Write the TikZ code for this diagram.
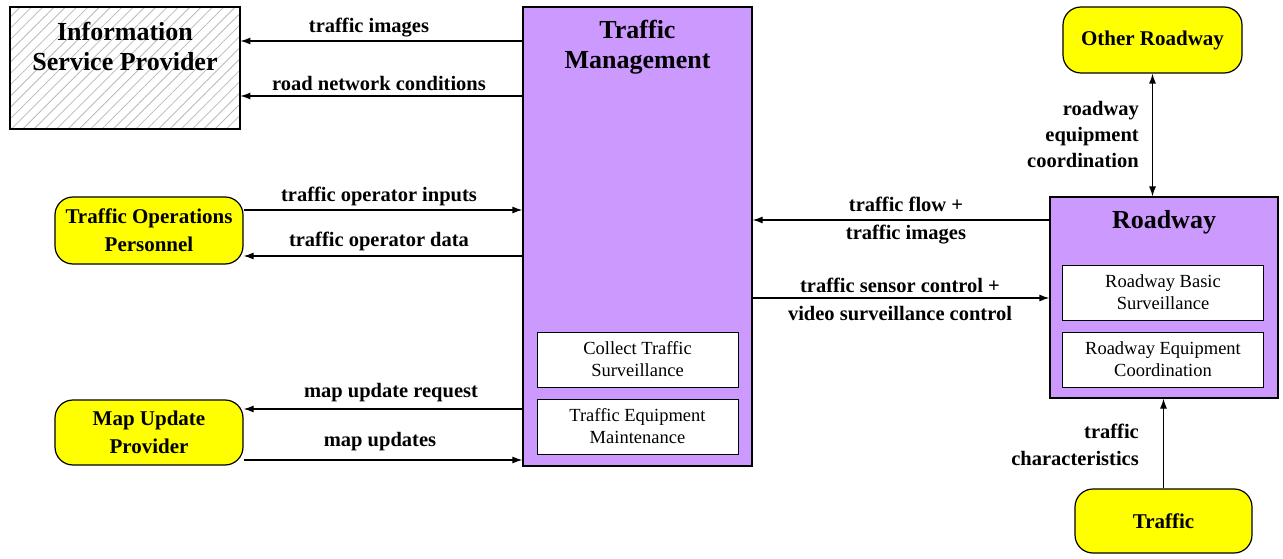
\documentclass[tikz,border=0pt]{standalone}
\usepackage{fontspec}
\setmainfont{Liberation Serif}
\usetikzlibrary{arrows.meta,positioning,patterns.meta}
\definecolor{lilac}{RGB}{204,153,255}
\definecolor{sunny}{RGB}{255,255,0}
\tikzset{
  actor/.style={draw, rounded corners=18pt, fill=sunny, line width=1.2pt,
    font=\fontsize{21}{28}\selectfont\bfseries, align=center, inner sep=0pt},
  sysbox/.style={draw, fill=lilac, line width=1.2pt, inner sep=0pt},
  subbox/.style={draw, fill=white, line width=1pt, minimum width=201pt,
    minimum height=55pt, inner sep=0pt, align=center,
    font=\fontsize{18.5}{22}\selectfont},
  boxtitle/.style={font=\fontsize{26}{30}\selectfont\bfseries, align=center, inner sep=0pt},
  lbl/.style={font=\fontsize{20.5}{27}\selectfont\bfseries, align=center, inner sep=0pt},
  flow/.style={line width=1.2pt, -{Latex[length=10pt,width=7pt]}},
  bothflow/.style={line width=1.2pt, {Latex[length=10pt,width=7pt]}-{Latex[length=10pt,width=7pt]}}
}
\begin{document}
\begin{tikzpicture}[x=1pt,y=-1pt]
  \useasboundingbox (0,0) rectangle (1283,559);

  % terminators on the left
  \node[draw, line width=1.2pt, inner sep=0pt, minimum width=230pt, minimum height=122pt,
    pattern={Lines[angle=45,distance=8pt,line width=0.8pt]}, pattern color=gray!55]
    (isp) at (125,68) {};
  \node[boxtitle] (isptitle) at (125,46) {Information\\Service Provider};
  \node[actor, minimum width=188pt, minimum height=67pt] (ops) at (149,230.5)
    {Traffic Operations\\Personnel};
  \node[actor, minimum width=188pt, minimum height=65pt] (mup) at (149,432.5)
    {Map Update\\Provider};

  % traffic management centre
  \node[sysbox, minimum width=229pt, minimum height=459pt] (tm) at (637.5,236.5) {};
  \node[boxtitle] (tmtitle) at (637.5,47) {Traffic\\Management};
  \node[subbox] (cts) at (637.5,359.5) {Collect Traffic\\Surveillance};
  \node[subbox] (tem) at (637.5,426.5) {Traffic Equipment\\Maintenance};

  % roadway side
  \node[actor, minimum width=179pt, minimum height=66pt] (otherrd) at (1152.5,40) {Other Roadway};
  \node[sysbox, minimum width=228pt, minimum height=201pt] (roadway) at (1164,297.5) {};
  \node[boxtitle] (rdtitle) at (1164,222) {Roadway};
  \node[subbox] (rbs) at (1163,292.5) {Roadway Basic\\Surveillance};
  \node[subbox] (rec) at (1163,359.5) {Roadway Equipment\\Coordination};
  \node[actor, minimum width=177pt, minimum height=64pt] (traffic) at (1163.5,521) {Traffic};

  % flows
  \draw[flow] (tm.west |- 0,41) -- (isp.east |- 0,41);
  \draw[flow] (tm.west |- 0,96) -- (isp.east |- 0,96);
  \draw[flow] (ops.east |- 0,210) -- (tm.west |- 0,210);
  \draw[flow] (tm.west |- 0,256) -- (ops.east |- 0,256);
  \draw[flow] (tm.west |- 0,409) -- (mup.east |- 0,409);
  \draw[flow] (mup.east |- 0,460) -- (tm.west |- 0,460);
  \draw[flow] (roadway.west |- 0,220) -- (tm.east |- 0,220);
  \draw[flow] (tm.east |- 0,298) -- (roadway.west |- 0,298);
  \draw[bothflow] (otherrd.south) -- (roadway.north -| otherrd.south);
  \draw[flow] (traffic.north) -- (roadway.south -| traffic.north);

  \node[lbl] (l1) at (369,28) {traffic images};
  \node[lbl] (l2) at (379,83) {road network conditions};
  \node[lbl] (l3) at (379,196) {traffic operator inputs};
  \node[lbl] (l4) at (379,241) {traffic operator data};
  \node[lbl] (l5) at (391,393) {map update request};
  \node[lbl] (l6) at (380,442) {map updates};
  \node[lbl, font=\fontsize{20.5}{28}\selectfont\bfseries] (l7) at (906,221) {traffic flow +\\traffic images};
  \node[lbl, font=\fontsize{20.5}{28}\selectfont\bfseries] (l8) at (900,299) {traffic sensor control +\\video surveillance control};
  \node[lbl, align=right, anchor=east, font=\fontsize{20.5}{26}\selectfont\bfseries] (l9) at (1139,134) {roadway\\equipment\\coordination};
  \node[lbl, align=right, anchor=east] (l10) at (1139,445) {traffic\\characteristics};
\end{tikzpicture}
\end{document}
